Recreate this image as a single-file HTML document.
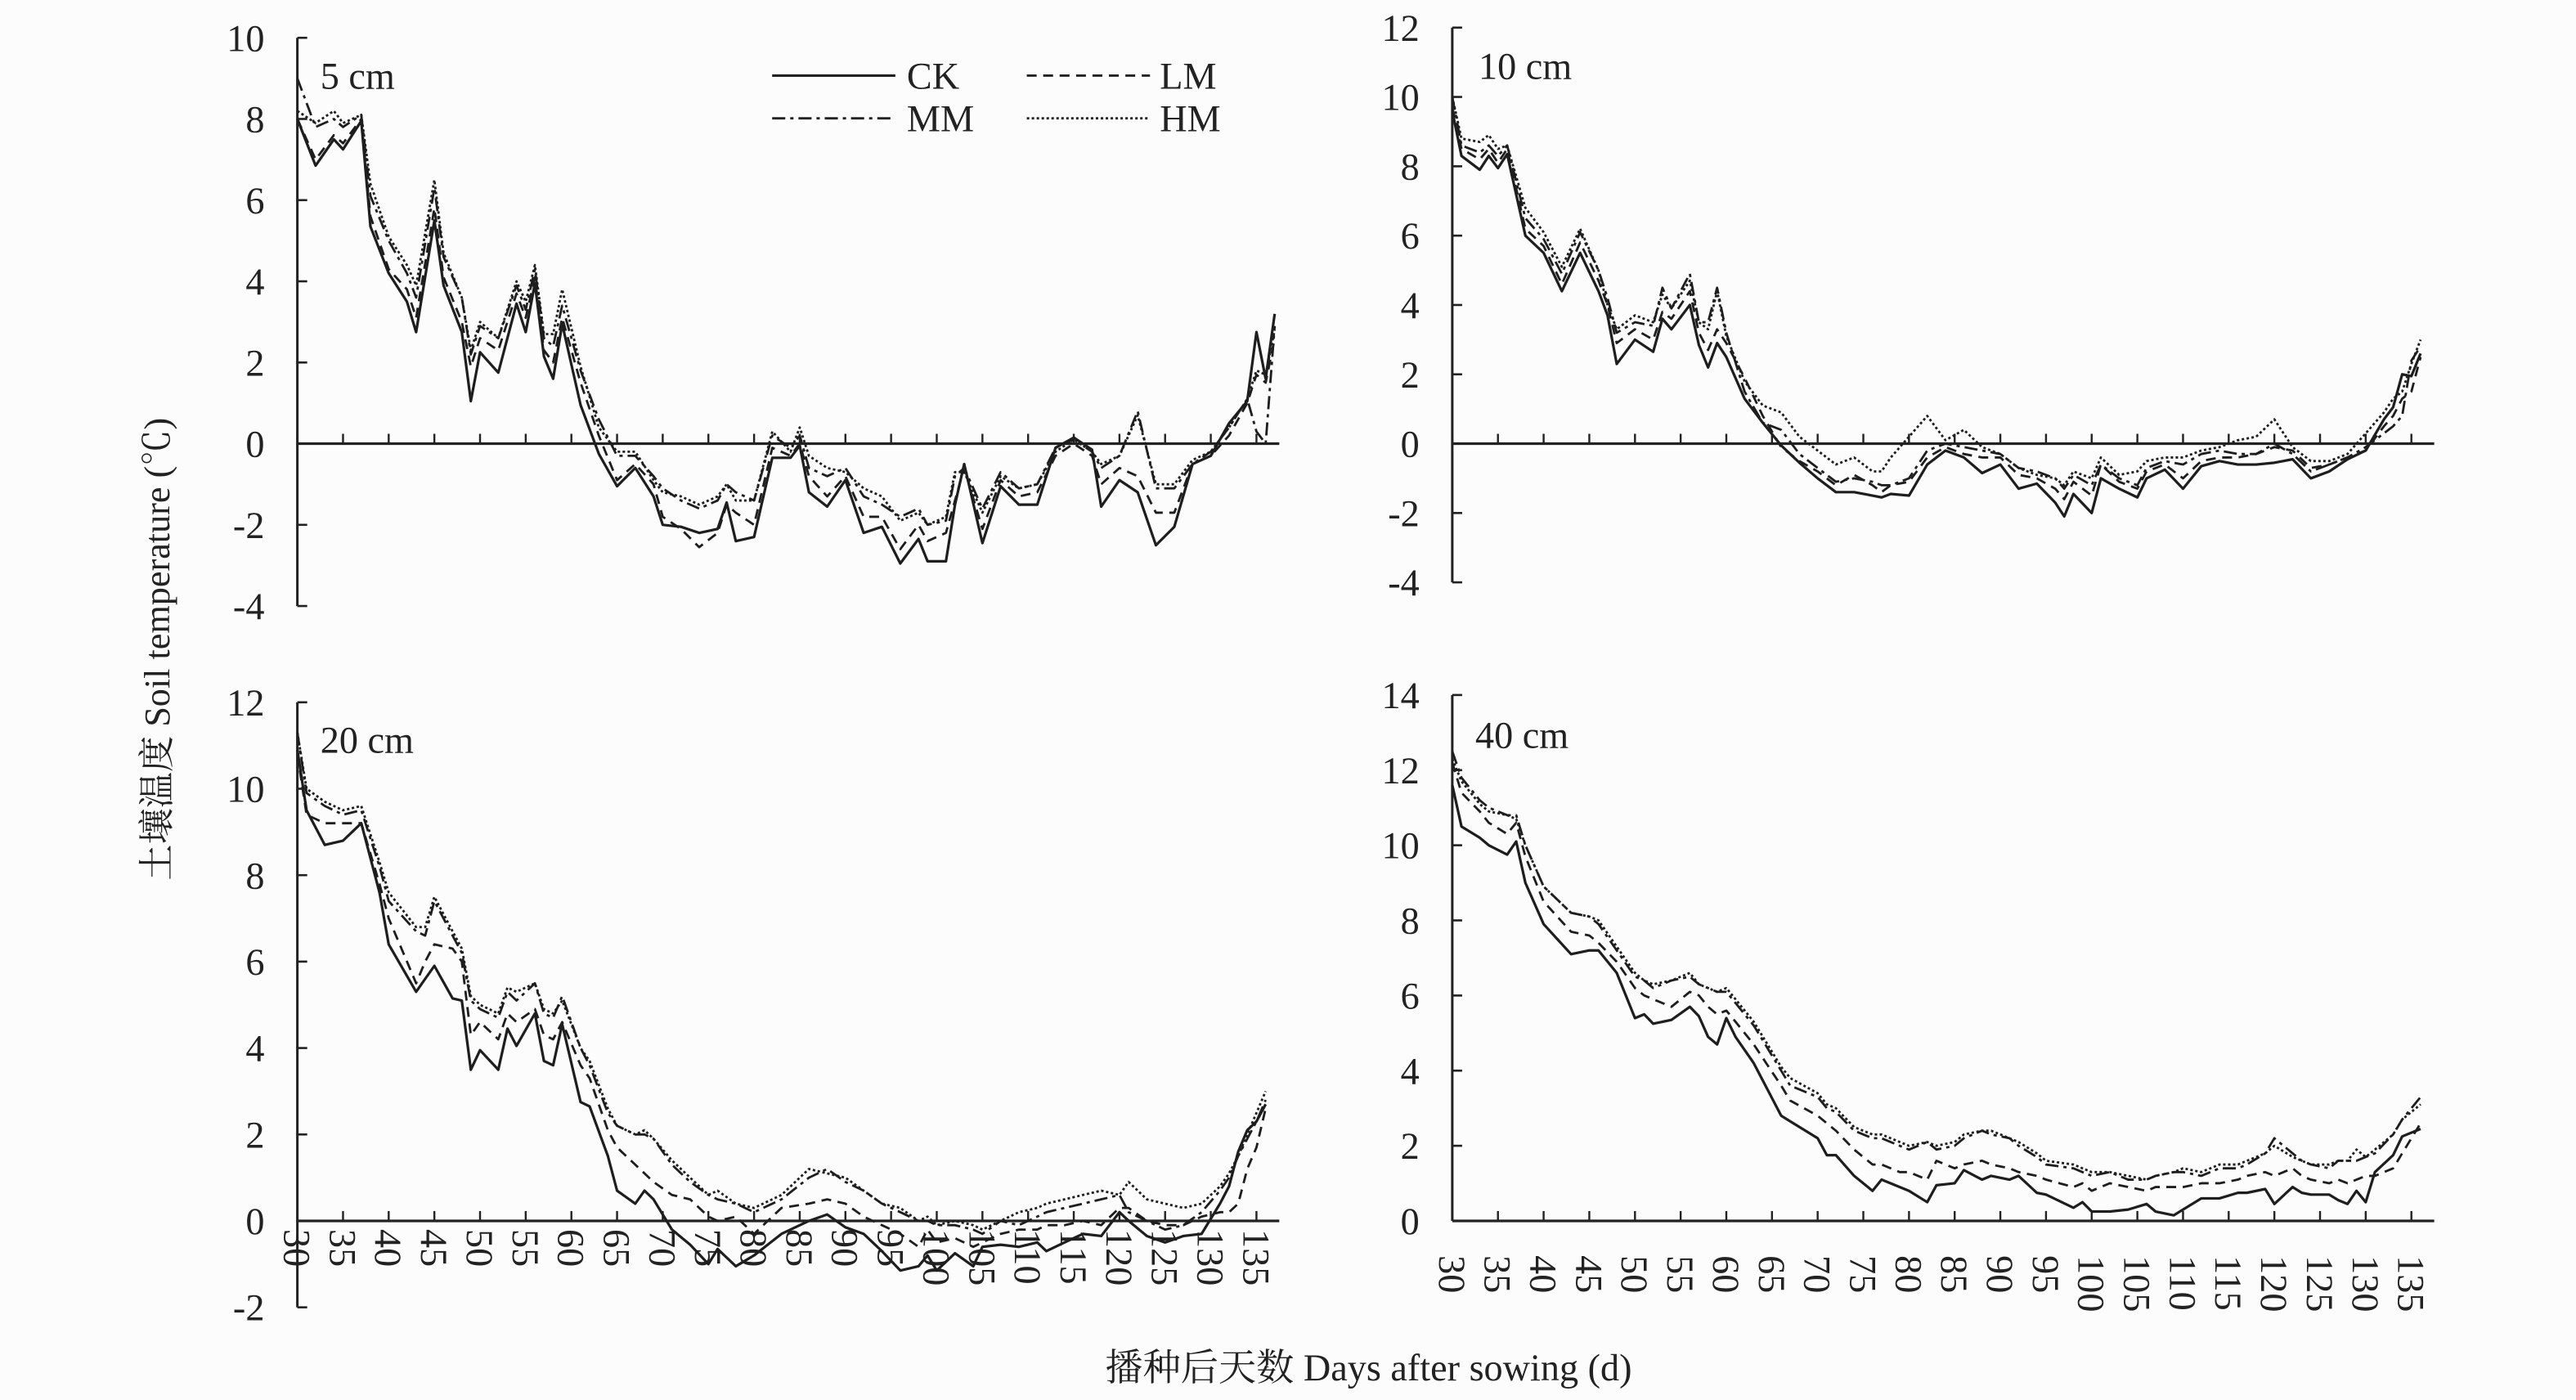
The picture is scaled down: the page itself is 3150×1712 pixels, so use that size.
<!DOCTYPE html>
<html><head><meta charset="utf-8"><style>
html,body{margin:0;padding:0;background:#fcfcfc}
svg{display:block}
text{font-family:"Liberation Serif","Noto Serif CJK SC",serif;fill:#222}
</style></head><body>
<svg id="chart" width="3150" height="1712" viewBox="0 0 1568 852" preserveAspectRatio="none" xmlns="http://www.w3.org/2000/svg">
<rect width="1568" height="852" fill="#fcfcfc"/>
<g id="legend">
 <line x1="470" y1="46" x2="545" y2="46" stroke="#222" stroke-width="1.6"/>
 <text x="552" y="54" font-size="23">CK</text>
 <line x1="625" y1="46" x2="700" y2="46" stroke="#222" stroke-width="1.4" stroke-dasharray="6,4"/>
 <text x="706" y="54" font-size="23">LM</text>
 <line x1="470" y1="72" x2="545" y2="72" stroke="#222" stroke-width="1.4" stroke-dasharray="8,3,2,3"/>
 <text x="552" y="80" font-size="23">MM</text>
 <line x1="625" y1="72" x2="700" y2="72" stroke="#222" stroke-width="1.4" stroke-dasharray="1.5,1.5"/>
 <text x="706" y="80" font-size="23">HM</text>
</g>
<text x="0" y="0" font-size="22" text-anchor="middle" transform="translate(103,395) rotate(-90)">土壤温度 Soil temperature (℃)</text>
<text x="833" y="840" font-size="23" text-anchor="middle">播种后天数 Days after sowing (d)</text>
</svg>
<script>
// ---- Panel 1: 5 cm ----
const days5 = [30,32,34,35,37,38,40,42,43,45,46,48,49,50,52,54,55,56,57,58,59,61,63,65,67,69,70,72,74,76,77,78,80,82,84,85,86,88,90,92,94,96,98,99,101,102,103,105,107,109,111,113,115,117,118,120,122,124,126,128,130,132,134,135,136,137];
const ck5 = [8.0,6.85,7.5,7.25,7.95,5.35,4.2,3.5,2.75,5.5,3.9,2.75,1.05,2.25,1.75,3.45,2.75,3.95,2.15,1.6,2.95,0.95,-0.25,-1.05,-0.6,-1.3,-2.0,-2.05,-2.2,-2.1,-1.45,-2.4,-2.3,-0.35,-0.35,-0.05,-1.2,-1.55,-0.9,-2.2,-2.05,-2.95,-2.35,-2.9,-2.9,-1.5,-0.5,-2.45,-1.05,-1.5,-1.5,-0.1,0.15,-0.15,-1.55,-0.9,-1.2,-2.5,-2.05,-0.5,-0.3,0.5,1.05,2.75,1.6,3.2];
const lm5 = [8.0,7.0,7.6,7.4,8.0,5.6,4.3,3.8,3.1,5.8,4.1,3.0,1.9,2.6,2.3,3.7,3.1,4.1,2.3,2.0,3.1,1.5,0.2,-0.9,-0.5,-1.0,-1.8,-2.1,-2.55,-2.2,-1.5,-1.7,-2.0,-0.1,-0.3,0.0,-0.8,-1.3,-0.8,-1.8,-1.8,-2.6,-2.0,-2.4,-2.2,-1.4,-0.6,-2.1,-0.9,-1.3,-1.2,-0.3,0.0,-0.3,-1.0,-0.6,-0.8,-1.7,-1.7,-0.5,-0.3,0.2,1.0,1.7,1.5,2.6];
const mm5 = [9.0,7.8,8.0,7.8,8.1,6.1,5.0,4.2,3.6,6.3,4.6,3.6,2.2,2.9,2.6,3.9,3.3,4.3,2.6,2.4,3.4,1.8,0.6,-0.3,-0.3,-0.8,-1.1,-1.4,-1.6,-1.4,-1.0,-1.2,-1.4,0.2,-0.1,0.2,-0.6,-0.8,-0.6,-1.3,-1.5,-1.8,-1.6,-2.0,-1.9,-0.8,-0.6,-1.6,-0.7,-1.1,-1.0,-0.1,0.1,-0.2,-0.6,-0.3,0.8,-1.1,-1.1,-0.5,-0.2,0.4,1.1,0.3,0.0,2.9];
const hm5 = [8.2,7.9,8.2,7.9,8.1,6.4,5.1,4.4,3.9,6.5,4.7,3.6,2.3,3.0,2.6,4.0,3.5,4.4,2.7,2.7,3.8,1.9,0.4,-0.2,-0.2,-0.9,-1.2,-1.3,-1.5,-1.3,-1.0,-1.4,-1.4,0.3,-0.2,0.4,-0.3,-0.6,-0.7,-1.1,-1.3,-1.9,-1.7,-2.0,-1.8,-0.7,-0.7,-1.7,-0.8,-1.1,-1.0,-0.2,0.1,-0.2,-0.5,-0.3,0.7,-1.0,-1.0,-0.4,-0.2,0.4,1.1,1.8,1.7,2.8];
const ticks5 = [10,8,6,4,2,0,-2,-4];
// ---- Panel 2: 10 cm ----
const days10 = [30,31,33,34,35,36,38,40,42,44,46,47,48,50,52,53,54,56,57,58,59,60,62,64,66,68,70,72,74,76,77,78,80,82,84,86,88,90,92,94,96,97,98,100,101,103,105,106,108,110,112,114,116,118,120,122,124,126,128,130,132,133,134,135,136];
const ck10 = [9.6,8.3,7.9,8.3,7.95,8.35,6.0,5.5,4.4,5.5,4.4,3.7,2.3,3.0,2.65,3.6,3.3,4.0,2.85,2.2,2.9,2.5,1.3,0.6,-0.05,-0.55,-1.0,-1.4,-1.4,-1.5,-1.55,-1.45,-1.5,-0.6,-0.2,-0.4,-0.85,-0.6,-1.3,-1.15,-1.7,-2.1,-1.45,-2.0,-1.0,-1.3,-1.55,-1.0,-0.75,-1.3,-0.65,-0.5,-0.6,-0.6,-0.55,-0.45,-1.0,-0.8,-0.45,-0.2,0.7,1.05,2.0,1.95,2.6];
const lm10 = [9.7,8.5,8.2,8.5,8.1,8.5,6.2,5.7,4.6,5.8,4.7,4.0,2.9,3.3,3.0,3.8,3.6,4.4,3.2,2.7,3.3,2.9,1.9,0.8,-0.1,-0.5,-0.8,-1.2,-0.9,-1.2,-1.4,-1.2,-1.1,-0.4,-0.1,-0.3,-0.4,-0.4,-0.9,-1.0,-1.3,-1.6,-1.1,-1.5,-0.6,-1.1,-1.3,-0.8,-0.6,-1.0,-0.5,-0.4,-0.4,-0.3,-0.1,-0.2,-0.7,-0.6,-0.4,-0.2,0.5,0.8,1.3,1.5,2.5];
const mm10 = [10.0,8.6,8.4,8.6,8.3,8.6,6.5,5.9,4.9,6.1,5.0,4.2,3.2,3.5,3.4,4.5,3.9,4.9,3.5,3.5,4.5,3.2,1.5,0.6,0.4,-0.3,-0.7,-1.1,-1.0,-1.1,-1.2,-1.2,-1.0,-0.2,0.0,-0.1,-0.2,-0.3,-0.7,-0.8,-1.0,-1.3,-0.9,-1.2,-0.6,-1.0,-1.2,-0.7,-0.5,-0.6,-0.3,-0.2,-0.3,-0.3,0.0,-0.3,-0.8,-0.6,-0.4,-0.1,0.3,0.5,0.8,2.4,2.8];
const hm10 = [10.0,8.8,8.7,8.9,8.5,8.6,6.8,6.1,5.1,6.2,5.0,4.0,3.3,3.7,3.5,4.3,3.9,4.7,3.5,3.3,4.4,3.1,1.8,1.1,0.9,0.2,-0.2,-0.6,-0.4,-0.8,-0.8,-0.4,0.2,0.8,0.1,0.4,-0.1,-0.3,-0.7,-0.9,-1.0,-1.2,-0.8,-1.0,-0.4,-0.9,-0.8,-0.5,-0.4,-0.4,-0.2,-0.1,0.1,0.2,0.7,-0.1,-0.5,-0.5,-0.3,0.3,0.9,1.3,1.5,2.3,3.0];
const ticks10 = [12,10,8,6,4,2,0,-2,-4];
// ---- Panel 3: 20 cm ----
const days20 = [30,31,33,35,37,39,40,43,44,45,47,48,49,50,52,53,54,56,57,58,59,61,62,64,65,67,68,69,71,73,75,76,78,80,83,86,88,90,92,94,96,98,99,100,102,104,105,107,109,111,112,114,116,118,120,121,123,125,127,129,131,132,133,134,135,136];
const ck20 = [10.9,9.5,8.7,8.8,9.2,7.6,6.4,5.3,5.6,5.9,5.15,5.1,3.5,3.95,3.5,4.45,4.05,4.8,3.7,3.6,4.55,2.75,2.65,1.5,0.7,0.4,0.7,0.5,-0.2,-0.55,-1.0,-0.65,-1.05,-0.8,-0.3,0.0,0.15,-0.15,-0.3,-0.7,-1.15,-1.05,-0.8,-1.15,-0.75,-1.05,-0.6,-0.55,-0.6,-0.5,-0.7,-0.5,-0.3,-0.35,0.2,0.0,-0.35,-0.5,-0.35,-0.3,0.4,0.8,1.6,2.1,2.3,2.7];
const lm20 = [10.8,9.4,9.2,9.2,9.2,7.8,7.0,5.5,6.0,6.4,6.3,6.0,4.3,4.6,4.2,4.8,4.6,4.9,4.3,4.2,4.6,3.6,3.3,2.1,1.7,1.3,1.1,0.9,0.6,0.5,0.1,0.0,0.1,-0.3,0.3,0.4,0.5,0.4,0.1,-0.1,-0.3,-0.6,-0.2,-0.5,-0.4,-0.6,-0.5,-0.3,-0.2,-0.2,-0.1,-0.1,0.0,-0.1,0.3,0.3,0.0,-0.1,-0.1,0.1,0.2,0.2,0.4,1.2,1.7,2.6];
const mm20 = [11.3,9.9,9.6,9.4,9.5,8.2,7.4,6.7,6.6,7.4,6.6,6.2,5.1,4.9,4.7,5.3,5.1,5.5,4.8,4.7,5.2,4.0,3.6,2.5,2.2,2.0,2.0,1.9,1.3,0.9,0.6,0.5,0.4,0.2,0.5,1.0,1.2,0.9,0.7,0.4,0.2,0.0,0.0,-0.1,-0.1,-0.2,-0.3,0.0,-0.1,0.1,0.2,0.3,0.4,0.5,0.6,0.2,0.0,-0.2,-0.1,0.2,0.7,1.0,1.5,1.9,2.3,2.8];
const hm20 = [11.3,10.0,9.7,9.5,9.6,8.3,7.6,6.8,6.8,7.5,6.7,6.3,5.2,5.0,4.8,5.4,5.3,5.5,4.9,4.8,5.1,4.0,3.7,2.6,2.2,2.0,2.1,1.9,1.4,1.0,0.6,0.7,0.4,0.3,0.6,1.2,1.1,1.0,0.7,0.4,0.3,0.0,0.1,-0.1,0.0,-0.1,-0.2,0.0,0.2,0.3,0.4,0.5,0.6,0.7,0.6,0.9,0.5,0.4,0.3,0.4,0.8,1.1,1.5,2.0,2.5,3.0];
const ticks20 = [12,10,8,6,4,2,0,-2];
// ---- Panel 4: 40 cm ----
const days40 = [30,31,33,34,36,37,38,40,43,45,46,48,50,51,52,54,56,57,58,59,60,61,63,66,67,70,71,72,74,76,77,79,80,82,83,85,86,88,89,91,92,94,95,98,99,100,102,104,106,107,109,110,112,114,116,117,119,120,122,123,124,126,127,128,129,130,131,133,134,136];
const ck40 = [11.6,10.5,10.2,10.0,9.75,10.1,9.0,7.9,7.1,7.2,7.2,6.6,5.4,5.5,5.25,5.35,5.7,5.45,4.9,4.7,5.4,4.9,4.2,2.8,2.65,2.2,1.75,1.75,1.2,0.8,1.1,0.9,0.8,0.5,0.95,1.0,1.35,1.1,1.2,1.1,1.2,0.75,0.7,0.35,0.5,0.25,0.25,0.3,0.45,0.25,0.15,0.3,0.6,0.6,0.75,0.75,0.85,0.45,0.9,0.75,0.7,0.7,0.55,0.45,0.8,0.5,1.3,1.75,2.25,2.45];
const lm40 = [12.2,11.4,10.9,10.6,10.3,10.6,9.7,8.5,7.7,7.6,7.4,6.9,6.2,6.0,5.9,5.7,6.1,6.0,5.7,5.5,5.6,5.3,4.7,3.6,3.2,2.8,2.6,2.4,1.9,1.5,1.5,1.3,1.3,1.1,1.6,1.4,1.5,1.6,1.5,1.4,1.3,1.2,1.1,0.9,1.0,0.8,1.0,0.9,0.8,0.9,0.9,0.9,1.0,1.0,1.1,1.2,1.3,1.2,1.4,1.2,1.1,1.0,1.1,1.0,1.1,1.2,1.2,1.4,1.8,2.6];
const mm40 = [12.5,11.8,11.2,11.0,10.8,10.8,10.0,8.9,8.2,8.1,7.9,7.2,6.5,6.4,6.2,6.4,6.5,6.3,6.2,6.1,6.1,5.8,5.2,4.0,3.6,3.3,3.0,2.9,2.4,2.2,2.2,2.0,1.9,2.1,1.9,2.0,2.2,2.4,2.3,2.2,2.0,1.7,1.5,1.4,1.3,1.2,1.3,1.1,1.1,1.2,1.3,1.3,1.2,1.4,1.4,1.5,1.8,2.2,1.8,1.6,1.5,1.4,1.6,1.6,1.6,1.7,1.8,2.3,2.7,3.3];
const hm40 = [12.3,11.7,11.1,10.9,10.8,10.7,10.0,8.9,8.2,8.1,8.0,7.3,6.6,6.4,6.3,6.4,6.6,6.3,6.2,6.1,6.2,5.9,5.3,4.1,3.8,3.4,3.1,3.0,2.5,2.3,2.3,2.1,2.0,2.1,2.0,2.1,2.3,2.4,2.4,2.2,2.1,1.8,1.6,1.5,1.4,1.3,1.3,1.2,1.1,1.2,1.3,1.4,1.3,1.5,1.5,1.6,1.8,2.0,1.7,1.6,1.5,1.5,1.6,1.6,1.9,1.7,1.9,2.3,2.7,3.1];
const ticks40 = [14,12,10,8,6,4,2,0];
const dayTicks = [30,35,40,45,50,55,60,65,70,75,80,85,90,95,100,105,110,115,120,125,130,135];

const NS = 'http://www.w3.org/2000/svg';
const svg = document.getElementById('chart');
const styles = {
  ck: {dash: null, w: 1.6},
  lm: {dash: '6,4', w: 1.4},
  mm: {dash: '8,3,2,3', w: 1.4},
  hm: {dash: '1.5,1.5', w: 1.4}
};
function mk(tag, attrs, parent) {
  const el = document.createElementNS(NS, tag);
  for (const k in attrs) el.setAttribute(k, attrs[k]);
  parent.appendChild(el);
  return el;
}
function panel(cfg) {
  const g = mk('g', {}, svg);
  
  
  const x = d => cfg.x0 + (d - 30) * 5.56;
  const y = v => cfg.yZero - v * cfg.unit;
  const yTop = y(cfg.ticks[0]), yBot = y(cfg.ticks[cfg.ticks.length - 1]);
  const ya = mk('line', {x1: cfg.x0, y1: yTop, x2: cfg.x0, y2: yBot, stroke: '#222', 'stroke-width': 1.5}, g);
  
  
  cfg.ticks.forEach(t => {
    const tk = mk('line', {x1: cfg.x0, y1: y(t), x2: cfg.x0 + 6, y2: y(t), stroke: '#222', 'stroke-width': 1.3}, g);
    
    
    const tl = mk('text', {x: cfg.x0 - 20, y: y(t) + 8, 'font-size': 23, 'text-anchor': 'end'}, g);
    tl.textContent = t;
    
    
  });
  const xa = mk('line', {x1: cfg.x0, y1: y(0), x2: x(137.5), y2: y(0), stroke: '#222', 'stroke-width': 1.6}, g);
  
  
  dayTicks.forEach(d => {
    const tk = mk('line', {x1: x(d), y1: y(0), x2: x(d), y2: y(0) - 6, stroke: '#222', 'stroke-width': 1.2}, g);
    
    
    if (cfg.xLabels) {
      const tl = mk('text', {x: 0, y: 0, 'font-size': 23, transform: 'translate(' + (x(d) - 8) + ',' + cfg.labelY + ') rotate(90)'}, g);
      tl.textContent = d;
      
      
    }
  });
  const lab = mk('text', {x: cfg.labX, y: cfg.labY, 'font-size': 23}, g);
  lab.textContent = cfg.label;
  
  
  ['hm', 'mm', 'lm', 'ck'].forEach(k => {
    const vals = cfg.series[k];
    const pts = cfg.days.map((d, i) => x(d).toFixed(1) + ',' + y(vals[i]).toFixed(1)).join(' ');
    const attrs = {points: pts, fill: 'none', stroke: '#1e1e1e', 'stroke-width': styles[k].w, 'stroke-linejoin': 'round'};
    if (styles[k].dash) attrs['stroke-dasharray'] = styles[k].dash;
    const pl = mk('polyline', attrs, g);
    
    
  });
}
panel({name: 'panel-5cm', x0: 181, yZero: 270, unit: 24.7, ticks: ticks5, days: days5, series: {ck: ck5, lm: lm5, mm: mm5, hm: hm5}, label: '5 cm', labX: 195, labY: 54, xLabels: false});
panel({name: 'panel-10cm', x0: 884, yZero: 270, unit: 21.1, ticks: ticks10, days: days10, series: {ck: ck10, lm: lm10, mm: mm10, hm: hm10}, label: '10 cm', labX: 900, labY: 48, xLabels: false});
panel({name: 'panel-20cm', x0: 181, yZero: 743, unit: 26.3, ticks: ticks20, days: days20, series: {ck: ck20, lm: lm20, mm: mm20, hm: hm20}, label: '20 cm', labX: 195, labY: 458, xLabels: true, labelY: 748});
panel({name: 'panel-40cm', x0: 884, yZero: 743, unit: 22.86, ticks: ticks40, days: days40, series: {ck: ck40, lm: lm40, mm: mm40, hm: hm40}, label: '40 cm', labX: 898, labY: 455, xLabels: true, labelY: 764});
</script>
</body></html>
